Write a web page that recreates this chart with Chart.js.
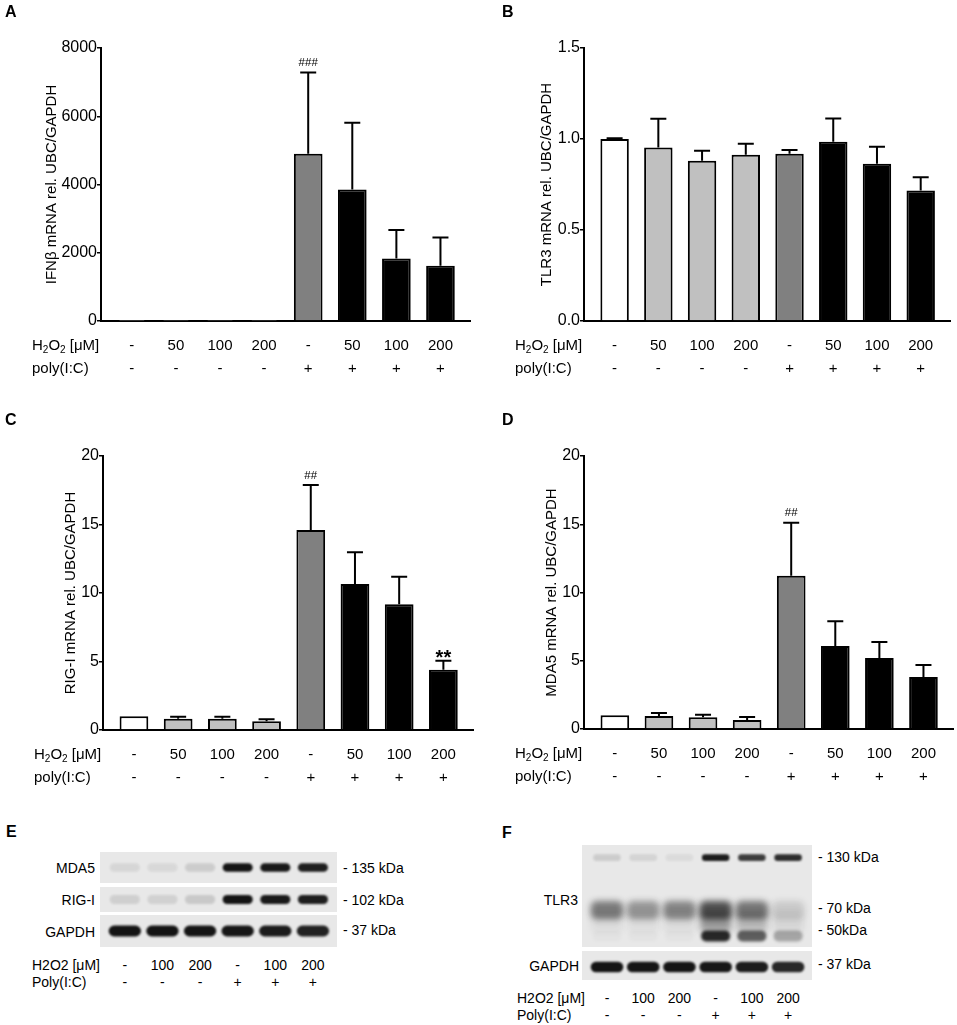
<!DOCTYPE html>
<html><head><meta charset="utf-8">
<script src="https://cdn.jsdelivr.net/npm/chart.js@4.4.1/dist/chart.umd.min.js"></script>
<style>
body{margin:0;background:#fff;font-family:"Liberation Sans",Arial,Helvetica,sans-serif;}
#wrap{position:relative;width:957px;height:1025px;overflow:hidden;background:#fff;}
canvas{position:absolute;}
.t{position:absolute;color:#000;white-space:nowrap;line-height:1;}
</style></head><body>
<div id="wrap">
<canvas id="cA" width="478" height="400" style="left:0;top:0"></canvas>
<canvas id="cB" width="477" height="400" style="left:480px;top:0"></canvas>
<canvas id="cC" width="478" height="380" style="left:0;top:420px"></canvas>
<canvas id="cD" width="477" height="380" style="left:480px;top:420px"></canvas>
<canvas id="eMda5" width="237" height="31" style="left:100px;top:852px"></canvas>
<canvas id="eRigi" width="237" height="25" style="left:100px;top:887px"></canvas>
<canvas id="eGapdh" width="237" height="32" style="left:100px;top:915px"></canvas>
<canvas id="fTlr3" width="230" height="102" style="left:582px;top:845px"></canvas>
<canvas id="fGapdh" width="230" height="29" style="left:582px;top:951px"></canvas>
</div>
<script>
const FONT = '"Liberation Sans", Arial, Helvetica, sans-serif';

// ---------------- data ----------------
const conditionH2O2 = ['-', '50', '100', '200', '-', '50', '100', '200'];
const conditionPoly = ['-', '-', '-', '-', '+', '+', '+', '+'];

const ifnbMean = [1, 1, 1, 1, 4900, 3850, 1830, 1620];
const ifnbSD   = [0, 0, 0, 0, 2380, 1960, 840, 830];
const ifnbSig  = ['', '', '', '', '###', '', '', ''];
const ifnbTicks = [0, 2000, 4000, 6000, 8000];

const tlr3Mean = [1.00, 0.953, 0.880, 0.913, 0.919, 0.985, 0.864, 0.717];
const tlr3SD   = [0.004, 0.158, 0.055, 0.061, 0.021, 0.128, 0.093, 0.073];
const tlr3Sig  = ['', '', '', '', '', '', '', ''];
const tlr3Ticks = [0, 0.5, 1.0, 1.5];

const rigiMean = [1.0, 0.83, 0.83, 0.63, 14.6, 10.66, 9.17, 4.40];
const rigiSD   = [0, 0.14, 0.14, 0.15, 3.28, 2.31, 2.02, 0.66];
const rigiSig  = ['', '', '', '', '##', '', '', '**'];
const rigiTicks = [0, 5, 10, 15, 20];

const mda5Mean = [1.0, 0.95, 0.86, 0.66, 11.23, 6.08, 5.20, 3.81];
const mda5SD   = [0, 0.22, 0.19, 0.22, 3.88, 1.81, 1.17, 0.88];
const mda5Sig  = ['', '', '', '', '##', '', '', ''];
const mda5Ticks = [0, 5, 10, 15, 20];

// western blots: relative band intensity per lane (0..1)
const blotH2O2 = ['-', '100', '200', '-', '100', '200'];
const blotPoly = ['-', '-', '-', '+', '+', '+'];
const blotMda5   = [0.08, 0.07, 0.12, 0.97, 0.94, 0.92];
const blotRigi   = [0.11, 0.1, 0.14, 0.97, 0.94, 0.92];
const blotGapdhE = [0.97, 0.97, 0.96, 0.95, 0.93, 0.9];
const tlr3MarkersKDa = [130, 70, 50];
const blotTlr3_130 = [0.12, 0.09, 0.06, 0.93, 0.78, 0.85];
const blotTlr3_70  = [0.5, 0.38, 0.46, 0.7, 0.52, 0.14];
const blotTlr3_50  = [0.02, 0.02, 0.02, 0.88, 0.62, 0.3];
const blotTlr3Smear = [0.06, 0.05, 0.06, 0.35, 0.22, 0.08];
const tlr3SmearKDa = [52, 66];
const blotGapdhF = [0.97, 0.96, 0.96, 0.95, 0.93, 0.88];

// ---------------- styles ----------------
const barFill = ['#ffffff', '#c0c0c0', '#c0c0c0', '#c0c0c0', '#808080', '#000000', '#000000', '#000000'];
const wrap = document.getElementById('wrap');

function addText(txt, x, y, align, size, bold) {
  const d = document.createElement('div');
  d.className = 't';
  d.textContent = txt;
  d.style.left = x + 'px';
  d.style.top = y + 'px';
  d.style.fontSize = size + 'px';
  if (bold) d.style.fontWeight = 'bold';
  const tx = align === 'center' ? '-50%' : (align === 'right' ? '-100%' : '0');
  d.style.transform = 'translate(' + tx + ',-50%)';
  wrap.appendChild(d);
}

const errPlugin = {
  id: 'err',
  afterDatasetsDraw(chart, args, o) {
    const ctx = chart.ctx, ys = chart.scales.y, meta = chart.getDatasetMeta(0);
    const vals = chart.data.datasets[0].data;
    ctx.save();
    ctx.strokeStyle = '#000';
    ctx.lineWidth = 2;
    ctx.fillStyle = '#000';
    o.sd.forEach((s, i) => {
      const bar = meta.data[i];
      const capY = ys.getPixelForValue(vals[i].y + s);
      if (s > 0) {
        ctx.beginPath();
        ctx.moveTo(bar.x, bar.y);
        ctx.lineTo(bar.x, capY);
        ctx.moveTo(bar.x - 8, capY);
        ctx.lineTo(bar.x + 8, capY);
        ctx.stroke();
      }
      const a = o.sig[i];
      if (a) {
        ctx.textAlign = 'center';
        ctx.textBaseline = 'alphabetic';
        if (a.indexOf('*') >= 0) {
          ctx.font = 'bold 20px ' + FONT;
          ctx.fillText(a, bar.x, capY + 3);
        } else {
          ctx.font = '11.5px ' + FONT;
          ctx.fillText(a, bar.x, capY - 6.5);
        }
      }
    });
    ctx.restore();
  }
};

const rowPlugin = {
  id: 'rows',
  afterDraw(chart, args, o) {
    const ctx = chart.ctx, ca = chart.chartArea, xs = chart.scales.x;
    const y1 = ca.bottom + 25, y2 = ca.bottom + 48;
    ctx.save();
    ctx.fillStyle = '#000';
    ctx.textBaseline = 'middle';
    ctx.textAlign = 'left';
    let x = ca.left - 69;
    const parts = [['H', 0], ['2', 1], ['O', 0], ['2', 1], [' [\u03bcM]', 0]];
    parts.forEach(p => {
      ctx.font = (p[1] ? '10px ' : '15px ') + FONT;
      ctx.fillText(p[0], x, y1 + (p[1] ? 4 : 0));
      x += ctx.measureText(p[0]).width;
    });
    ctx.font = '15px ' + FONT;
    ctx.fillText('poly(I:C)', ca.left - 69, y2);
    ctx.textAlign = 'center';
    o.h2o2.forEach((t, i) => ctx.fillText(t, xs.getPixelForValue(i), y1));
    o.poly.forEach((t, i) => ctx.fillText(t, xs.getPixelForValue(i), y2));
    ctx.restore();
  }
};

function barChart(id, mean, sd, sig, ticks, fmt, title, area, titleCenter) {
  const cv = document.getElementById(id);
  const W = cv.width, H = cv.height;
  return new Chart(cv, {
    type: 'bar',
    data: {
      datasets: [{
        data: mean.map((v, i) => ({ x: i, y: v })),
        backgroundColor: barFill,
        borderColor: '#000',
        borderWidth: 2,
        borderSkipped: 'start',
        barPercentage: 0.65,
        categoryPercentage: 1
      }]
    },
    options: {
      responsive: false,
      animation: false,
      layout: { padding: { left: 0, top: area.top, right: W - area.right, bottom: 0 } },
      plugins: {
        legend: { display: false },
        tooltip: { enabled: false },
        err: { sd: sd, sig: sig },
        rows: { h2o2: conditionH2O2, poly: conditionPoly }
      },
      scales: {
        x: {
          type: 'linear', min: -0.7, max: 7.67, offset: false,
          grid: { display: false, drawTicks: false },
          border: { display: true, color: '#000', width: 2 },
          ticks: { display: false },
          afterBuildTicks: s => { s.ticks = mean.map((v, i) => ({ value: i })); },
          afterFit: s => { s.height = H - area.bottom; }
        },
        y: {
          min: ticks[0], max: ticks[ticks.length - 1],
          grid: { display: true, drawOnChartArea: false, drawTicks: true, tickLength: 4, color: '#000', lineWidth: 1.5 },
          border: { display: true, color: '#000', width: 2 },
          ticks: { padding: 0, color: '#000', font: { family: FONT, size: 16 }, callback: fmt },
          afterBuildTicks: s => { s.ticks = ticks.map(v => ({ value: v })); },
          title: { display: true, text: title, color: '#000', font: { family: FONT, size: 15 }, padding: { top: titleCenter - 9, bottom: 0 } },
          afterFit: s => { s.width = area.left; }
        }
      }
    },
    plugins: [errPlugin, rowPlugin]
  });
}

const fmtInt = v => String(v);
const fmt1 = v => Number(v).toFixed(1);

barChart('cA', ifnbMean, ifnbSD, ifnbSig, ifnbTicks, fmtInt, 'IFN\u03b2 mRNA rel. UBC/GAPDH', { left: 101, right: 470, top: 48, bottom: 321 }, 52);
barChart('cB', tlr3Mean, tlr3SD, tlr3Sig, tlr3Ticks, fmt1, 'TLR3 mRNA rel. UBC/GAPDH', { left: 104, right: 470, top: 48, bottom: 321 }, 67);
barChart('cC', rigiMean, rigiSD, rigiSig, rigiTicks, fmtInt, 'RIG-I mRNA rel. UBC/GAPDH', { left: 103, right: 473, top: 36, bottom: 310 }, 71);
barChart('cD', mda5Mean, mda5SD, mda5Sig, mda5Ticks, fmtInt, 'MDA5 mRNA rel. UBC/GAPDH', { left: 104, right: 473, top: 36, bottom: 309 }, 72);

// ---------------- western blots ----------------
const blotPlugin = {
  id: 'blot',
  beforeDraw(chart) {
    const ctx = chart.ctx, ca = chart.chartArea;
    ctx.save();
    ctx.fillStyle = '#e8e8e8';
    ctx.fillRect(ca.left, ca.top, ca.right - ca.left, ca.bottom - ca.top);
    ctx.restore();
  },
  beforeDatasetDraw(chart, args) {
    chart.ctx.save();
    chart.ctx.filter = 'blur(' + (chart.data.datasets[args.index].blur || 0) + 'px)';
  },
  afterDatasetDraw(chart) {
    chart.ctx.restore();
  }
};

function blotChart(id, xMin, xMax, yType, yMin, yMax, bands) {
  return new Chart(document.getElementById(id), {
    type: 'bar',
    data: {
      datasets: bands.map(b => ({
        data: b.vals.map((a, i) => ({ x: i, y: b.range })),
        backgroundColor: b.vals.map(a => 'rgba(12,12,12,' + a + ')'),
        borderWidth: 0,
        borderRadius: b.radius,
        borderSkipped: false,
        barPercentage: b.width,
        categoryPercentage: 1,
        grouped: false,
        blur: b.blur
      }))
    },
    options: {
      responsive: false,
      animation: false,
      layout: { padding: 0 },
      plugins: { legend: { display: false }, tooltip: { enabled: false } },
      scales: {
        x: { type: 'linear', display: false, min: xMin, max: xMax, offset: false,
             afterBuildTicks: s => { s.ticks = blotH2O2.map((v, i) => ({ value: i })); } },
        y: { type: yType, display: false, min: yMin, max: yMax }
      }
    },
    plugins: [blotPlugin]
  });
}

const kda = (m, f) => [m / f, m * f];

const eM = blotChart('eMda5', -0.66, 5.64, 'linear', 0, 1,
  [{ vals: blotMda5, range: [0.36, 0.64], width: 0.8, radius: 5, blur: 1.3 }]);
const eR = blotChart('eRigi', -0.66, 5.64, 'linear', 0, 1,
  [{ vals: blotRigi, range: [0.32, 0.68], width: 0.8, radius: 5, blur: 1.3 }]);
const eG = blotChart('eGapdh', -0.66, 5.64, 'linear', 0, 1,
  [{ vals: blotGapdhE, range: [0.33, 0.67], width: 0.86, radius: 6, blur: 1.3 }]);

const fT = blotChart('fTlr3', -0.69, 5.66, 'logarithmic', 43, 152, [
  { vals: blotTlr3Smear, range: tlr3SmearKDa, width: 0.85, radius: 4, blur: 3 },
  { vals: blotTlr3_70, range: kda(tlr3MarkersKDa[1] * 0.97, 1.12), width: 0.9, radius: 6, blur: 3 },
  { vals: blotTlr3_130, range: kda(tlr3MarkersKDa[0], 1.042), width: 0.76, radius: 4, blur: 1.3 },
  { vals: blotTlr3_50, range: kda(tlr3MarkersKDa[2] * 0.985, 1.07), width: 0.8, radius: 5, blur: 1.6 }
]);
const fG = blotChart('fGapdh', -0.69, 5.66, 'linear', 0, 1,
  [{ vals: blotGapdhF, range: [0.27, 0.63], width: 0.9, radius: 6, blur: 1.3 }]);

// ---------------- text ----------------
addText('A', 5, 12, 'left', 16, true);
addText('B', 502, 12, 'left', 16, true);
addText('C', 5, 420, 'left', 16, true);
addText('D', 502, 420, 'left', 16, true);
addText('E', 6, 832, 'left', 16, true);
addText('F', 502, 833, 'left', 16, true);

addText('MDA5', 95, 868, 'right', 14);
addText('RIG-I', 95, 900, 'right', 14);
addText('GAPDH', 95, 932, 'right', 14);
addText('- 135 kDa', 343, 868, 'left', 14);
addText('- 102 kDa', 343, 900, 'left', 14);
addText('- 37 kDa', 343, 930, 'left', 14);
addText('H2O2 [\u03bcM]', 32, 965, 'left', 14);
addText('Poly(I:C)', 32, 982, 'left', 14);
blotH2O2.forEach((t, i) => addText(t, 100 + eG.scales.x.getPixelForValue(i), 965, 'center', 14));
blotPoly.forEach((t, i) => addText(t, 100 + eG.scales.x.getPixelForValue(i), 982, 'center', 14));

addText('TLR3', 578, 900, 'right', 14);
addText('GAPDH', 579, 966, 'right', 14);
addText('- 130 kDa', 818, 857, 'left', 14);
addText('- 70 kDa', 818, 908, 'left', 14);
addText('- 50kDa', 818, 930, 'left', 14);
addText('- 37 kDa', 818, 964, 'left', 14);
addText('H2O2 [\u03bcM]', 517, 998, 'left', 14);
addText('Poly(I:C)', 517, 1015, 'left', 14);
blotH2O2.forEach((t, i) => addText(t, 582 + fG.scales.x.getPixelForValue(i), 998, 'center', 14));
blotPoly.forEach((t, i) => addText(t, 582 + fG.scales.x.getPixelForValue(i), 1015, 'center', 14));
</script>
</body></html>
